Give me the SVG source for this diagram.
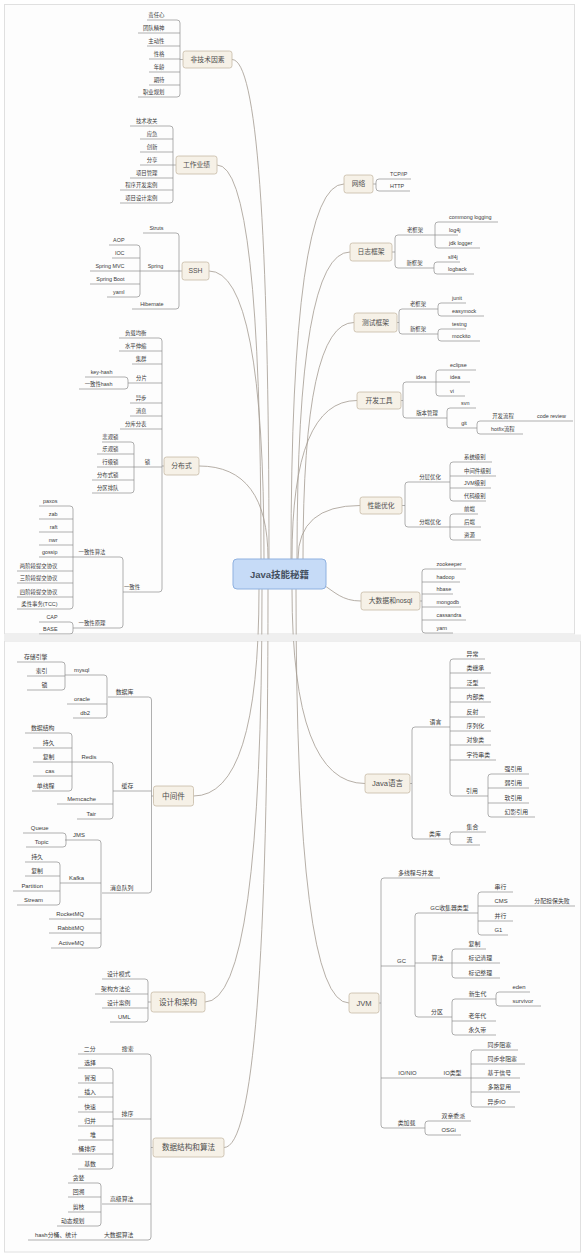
<svg xmlns="http://www.w3.org/2000/svg" width="587" height="1256" viewBox="0 0 587 1256">
<style>
text{font-family:"Liberation Sans","Noto Sans CJK SC",sans-serif;fill:#3a3a3a}
.a{font-size:5.4px}
.b{font-size:5.9px}
.e{text-anchor:end}
.m{text-anchor:middle}
.n{font-size:6.8px;fill:#4e4e4e;text-anchor:middle}
.nb{font-size:7.6px;fill:#4e4e4e;text-anchor:middle}
.bx{fill:#f6f1e7;stroke:#c6baa6;stroke-width:.8}
.ln{fill:none;stroke:#8e8e8e;stroke-width:.7}
.cv{fill:none;stroke:#a39a90;stroke-width:.8}
</style>
<rect x="0" y="0" width="587" height="1256" fill="#ffffff"/>
<rect x="4.5" y="4.5" width="570" height="629.5" fill="#fdfdfd" stroke="#e0e0e0" stroke-width="1"/>
<rect x="4.5" y="641" width="576" height="611" fill="#fdfdfd" stroke="#e0e0e0" stroke-width="1"/>

<g id="connectors">
<!-- main curves -->
<path class="cv" d="M232 59.5 Q269 59.5 269 559 V570"/>
<path class="cv" d="M217 165 Q261 165 261 559 V570"/>
<path class="cv" d="M209 271 Q264 271 264 559 V570"/>
<path class="cv" d="M199 466 Q268 466 268 559 V570"/>
<path class="cv" d="M344 184 Q291 184 291 559 V570"/>
<path class="cv" d="M350 252 Q297 252 297 559 V570"/>
<path class="cv" d="M354 322.5 Q303 322.5 303 559 V570"/>
<path class="cv" d="M357 400.5 Q292 400.5 292 559 V570"/>
<path class="cv" d="M360 505.5 Q298 505.5 298 559 V570"/>
<path class="cv" d="M361 601 C342 601 335 592 322 584"/>
<path class="cv" d="M193.5 796 Q259 796 259 589 V578"/>
<path class="cv" d="M205 1002 Q262 1002 262 589 V578"/>
<path class="cv" d="M224 1147.5 Q268 1147.5 268 589 V578"/>
<path class="cv" d="M365 783.5 Q292 783.5 292 589 V578"/>
<path class="cv" d="M349 1003 Q296 1003 296 589 V578"/>
<!-- parent stubs -->
<path class="ln" d="M183 59.5 H180 M176 165 H173 M182 271 H179 M164 466 H162 M373 184 H376 M392 252 H395 M397 322.5 H399 M401 400.5 H403 M402 505.5 H405 M420 601 H422 M153.5 796 H151.5 M151 1002 H148 M153 1147.5 H151 M410 783.5 H412 M379 1003 H381"/>
<!-- right top -->
<path class="ln" d="M411 179 H379 Q376 179 376 182 V188 Q376 191 379 191 H410"/>
<path class="ln" d="M435 235 H398 Q395 235 395 238 V265 Q395 268 398 268 H434"/>
<path class="ln" d="M498 222 H438 Q435 222 435 225 V245 Q435 248 438 248 H480 M435 235 H458"/>
<path class="ln" d="M460 262 H437 Q434 262 434 265 V271 Q434 274 437 274 H474"/>
<path class="ln" d="M438 309 H402 Q399 309 399 312 V331 Q399 334 402 334 H438"/>
<path class="ln" d="M466 303 H441 Q438 303 438 306 V313 Q438 316 441 316 H484"/>
<path class="ln" d="M466 329 H441 Q438 329 438 332 V338 Q438 341 441 341 H480"/>
<path class="ln" d="M436 382 H406 Q403 382 403 385 V415 Q403 418 406 418 H447"/>
<path class="ln" d="M476 370 H439 Q436 370 436 373 V393 Q436 396 439 396 H465 M436 382 H470"/>
<path class="ln" d="M476 408 H450 Q447 408 447 411 V425 Q447 428 450 428 H477"/>
<path class="ln" d="M573 421 H480 Q477 421 477 424 V431 Q477 434 480 434 H523"/>
<path class="ln" d="M450 482 H408 Q405 482 405 485 V524 Q405 527 408 527 H450"/>
<path class="ln" d="M492 462 H453 Q450 462 450 465 V498 Q450 501 453 501 H486 M450 476 H496 M450 488 H491"/>
<path class="ln" d="M478 514 H453 Q450 514 450 517 V537 Q450 540 453 540 H481 M450 527 H481"/>
<path class="ln" d="M466 569 H425 Q422 569 422 572 V630 Q422 633 425 633 H453 M422 582 H460 M422 594 H453 M422 607 H461 M422 620 H466"/>
<!-- left top -->
<path class="ln" d="M147 20 H177 Q180 20 180 23 V94 Q180 97 177 97 H138 M180 33 H138 M180 46 H147 M180 59 H149 M180 72 H149 M180 85 H149"/>
<path class="ln" d="M130 126 H170 Q173 126 173 129 V200 Q173 203 170 203 H120 M173 139 H140 M173 152 H140 M173 165 H140 M173 178 H130 M173 190 H120"/>
<path class="ln" d="M143 233 H176 Q179 233 179 236 V306 Q179 309 176 309 H132 M179 271 H140"/>
<path class="ln" d="M109 245 H137 Q140 245 140 248 V294 Q140 297 137 297 H107 M140 258 H112 M140 271 H90 M140 284 H90"/>
<path class="ln" d="M119 338 H159 Q162 338 162 341 V589 Q162 592 159 592 H123 M162 351 H119 M162 364 H132 M162 383 H128 M162 403 H130 M162 416 H130 M162 429 H120 M162 467 H134"/>
<path class="ln" d="M85 377 H125 Q128 377 128 380 V386 Q128 389 125 389 H79"/>
<path class="ln" d="M102 442 H131 Q134 442 134 445 V490 Q134 493 131 493 H92 M134 454 H97 M134 467 H97 M134 480 H92"/>
<path class="ln" d="M73 557 H120 Q123 557 123 560 V625 Q123 628 120 628 H73"/>
<path class="ln" d="M39 506 H70 Q73 506 73 509 V606 Q73 609 70 609 H17 M73 519 H39 M73 532 H39 M73 545 H39 M73 557 H39 M73 571 H17 M73 583 H17 M73 597 H17"/>
<path class="ln" d="M39 622 H70 Q73 622 73 625 V631 Q73 634 70 634 H39"/>
<!-- left bottom -->
<path class="ln" d="M108 697 H148.5 Q151.5 697 151.5 700 V890 Q151.5 893 148.5 893 H102 M151.5 791 H113"/>
<path class="ln" d="M65 675 H104 Q107 675 107 678 V715 Q107 718 104 718 H73 M107 704 H67"/>
<path class="ln" d="M17 662 H62 Q65 662 65 665 V687 Q65 690 62 690 H27 M65 676 H27"/>
<path class="ln" d="M72 762 H110 Q113 762 113 765 V816 Q113 819 110 819 H77 M113 804 H57"/>
<path class="ln" d="M25 733 H69 Q72 733 72 736 V788 Q72 791 69 791 H32 M72 748 H33 M72 762 H33 M72 776 H33"/>
<path class="ln" d="M65 840 H98 Q101 840 101 843 V945 Q101 948 98 948 H51 M101 883 H60 M101 919 H49 M101 933 H49"/>
<path class="ln" d="M23 833 H63 Q66 833 66 836 V844 Q66 847 63 847 H26"/>
<path class="ln" d="M25 862 H57 Q60 862 60 865 V902 Q60 905 57 905 H17 M60 876 H25 M60 891 H13"/>
<path class="ln" d="M102 979 H145 Q148 979 148 982 V1019 Q148 1022 145 1022 H110 M148 994 H95 M148 1008 H102"/>
<path class="ln" d="M78 1054 H148 Q151 1054 151 1057 V1237 Q151 1240 148 1240 H28 M151 1119 H113 M151 1204 H102"/>
<path class="ln" d="M78 1068 H110 Q113 1068 113 1071 V1166 Q113 1169 110 1169 H78 M113 1083 H78 M113 1097 H78 M113 1112 H78 M113 1126 H78 M113 1140 H78 M113 1154 H72"/>
<path class="ln" d="M68 1183 H98 Q101 1183 101 1186 V1223 Q101 1226 98 1226 H57 M101 1197 H68 M101 1212 H68"/>
<!-- right bottom -->
<path class="ln" d="M450 727 H415 Q412 727 412 730 V836 Q412 839 415 839 H450"/>
<path class="ln" d="M485 659 H453 Q450 659 450 662 V793 Q450 796 453 796 H488 M450 673 H491 M450 688 H485 M450 702 H491 M450 717 H485 M450 731 H491 M450 745 H491 M450 760 H496"/>
<path class="ln" d="M529 774 H491 Q488 774 488 777 V814 Q488 817 491 817 H535 M488 788 H529 M488 803 H529"/>
<path class="ln" d="M486 832 H453 Q450 832 450 835 V842 Q450 845 453 845 H480"/>
<path class="ln" d="M440 878 H384 Q381 878 381 881 V1125 Q381 1128 384 1128 H425 M381 966 H415 M381 1078 H471"/>
<path class="ln" d="M478 913 H418 Q415 913 415 916 V1014 Q415 1017 418 1017 H452 M415 963 H452"/>
<path class="ln" d="M513 892 H481 Q478 892 478 895 V932 Q478 935 481 935 H508 M478 906 H575 M478 921 H513"/>
<path class="ln" d="M486 949 H455 Q452 949 452 952 V975 Q452 978 455 978 H500 M452 963 H500"/>
<path class="ln" d="M496 999 H455 Q452 999 452 1002 V1032 Q452 1035 455 1035 H496 M452 1021 H496"/>
<path class="ln" d="M530 992 H499 Q496 992 496 995 V1003 Q496 1006 499 1006 H541"/>
<path class="ln" d="M518 1050 H474 Q471 1050 471 1053 V1104 Q471 1107 474 1107 H515 M471 1064 H525 M471 1078 H520 M471 1092 H520"/>
<path class="ln" d="M471 1121 H428 Q425 1121 425 1124 V1132 Q425 1135 428 1135 H461"/>
</g>

<rect x="4" y="634.5" width="577" height="6.5" fill="#efefef"/>

<g id="root">
<rect x="233" y="559" width="93" height="30" rx="4" fill="#c6dbf7" stroke="#8fb1e0" stroke-width="1"/>
<text x="279.5" y="577.5" text-anchor="middle" style="font-size:9.5px;font-weight:bold;fill:#44505e">Java技能秘籍</text>
</g>

<g id="node-feijishu"><rect class="bx" x="183" y="51" width="49" height="17" rx="2.5"/><text class="n" x="207.5" y="61.9">非技术因素</text></g>
<g id="node-gongzuo"><rect class="bx" x="176" y="156" width="41" height="18" rx="2.5"/><text class="n" x="196.5" y="167.4">工作业绩</text></g>
<g id="node-ssh"><rect class="bx" x="182" y="262" width="27" height="18" rx="2.5"/><text class="n" x="195.5" y="273.4">SSH</text></g>
<g id="node-fenbushi"><rect class="bx" x="164" y="457" width="35" height="18" rx="2.5"/><text class="n" x="181.5" y="468.4">分布式</text></g>
<g id="node-wangluo"><rect class="bx" x="344" y="175" width="29" height="18" rx="2.5"/><text class="n" x="358.5" y="186.4">网络</text></g>
<g id="node-rizhi"><rect class="bx" x="350" y="243" width="42" height="18" rx="2.5"/><text class="n" x="371" y="254.4">日志框架</text></g>
<g id="node-ceshi"><rect class="bx" x="354" y="313" width="43" height="19" rx="2.5"/><text class="n" x="375.5" y="324.9">测试框架</text></g>
<g id="node-kaifa"><rect class="bx" x="357" y="392" width="44" height="17" rx="2.5"/><text class="n" x="379" y="402.9">开发工具</text></g>
<g id="node-xingneng"><rect class="bx" x="360" y="497" width="42" height="17" rx="2.5"/><text class="n" x="381" y="507.9">性能优化</text></g>
<g id="node-dashuju"><rect class="bx" x="361" y="592" width="59" height="18" rx="2.5"/><text class="n" x="390.5" y="603.4">大数据和nosql</text></g>
<g id="node-zhongjianjian"><rect class="bx" x="153.5" y="786" width="40" height="20" rx="2.5"/><text class="nb" x="173.5" y="798.7">中间件</text></g>
<g id="node-sheji"><rect class="bx" x="151" y="992" width="54" height="20" rx="2.5"/><text class="nb" x="178" y="1004.7">设计和架构</text></g>
<g id="node-suanfa"><rect class="bx" x="153" y="1138" width="71" height="19" rx="2.5"/><text class="nb" x="188.5" y="1150.2">数据结构和算法</text></g>
<g id="node-java"><rect class="bx" x="365" y="774" width="45" height="19" rx="2.5"/><text class="nb" x="387.5" y="786.2">Java语言</text></g>
<g id="node-jvm"><rect class="bx" x="349" y="993" width="30" height="20" rx="2.5"/><text class="nb" x="364" y="1005.7">JVM</text></g>

<!-- right top leaves -->
<g id="wl-1"><text class="a" x="390" y="175.7">TCP/IP</text></g>
<g id="wl-2"><text class="a" x="390" y="187.7">HTTP</text></g>
<g id="rz-old"><text class="a m" x="415" y="231.7">老框架</text></g>
<g id="rz-new"><text class="a m" x="414.5" y="264.7">新框架</text></g>
<g id="rz-1"><text class="a" x="449" y="218.7">commong logging</text></g>
<g id="rz-2"><text class="a" x="449" y="231.7">log4j</text></g>
<g id="rz-3"><text class="a" x="449" y="244.7">jdk logger</text></g>
<g id="rz-4"><text class="a" x="448" y="258.7">slf4j</text></g>
<g id="rz-5"><text class="a" x="448" y="270.7">logback</text></g>
<g id="cs-old"><text class="a m" x="418" y="305.7">老框架</text></g>
<g id="cs-new"><text class="a m" x="418" y="330.7">新框架</text></g>
<g id="cs-1"><text class="a" x="452" y="299.7">junit</text></g>
<g id="cs-2"><text class="a" x="452" y="312.7">easymock</text></g>
<g id="cs-3"><text class="a" x="452" y="325.7">testng</text></g>
<g id="cs-4"><text class="a" x="452" y="337.7">mockito</text></g>
<g id="kf-idea"><text class="a m" x="421" y="378.7">idea</text></g>
<g id="kf-vc"><text class="a m" x="427" y="414.7">版本管理</text></g>
<g id="kf-1"><text class="a" x="450" y="366.7">eclipse</text></g>
<g id="kf-2"><text class="a" x="450" y="378.7">idea</text></g>
<g id="kf-3"><text class="a" x="450" y="392.7">vi</text></g>
<g id="kf-4"><text class="a" x="461" y="404.7">svn</text></g>
<g id="kf-git"><text class="a m" x="464" y="424.7">git</text></g>
<g id="kf-5"><text class="a m" x="503" y="417.7">开发流程</text></g>
<g id="kf-6"><text class="a m" x="551.5" y="417.7">code review</text></g>
<g id="kf-7"><text class="a" x="491" y="430.7">hotfix流程</text></g>
<g id="xn-a"><text class="a m" x="430" y="478.7">分层优化</text></g>
<g id="xn-b"><text class="a m" x="430" y="523.7">分端优化</text></g>
<g id="xn-1"><text class="a" x="464" y="458.7">系统级别</text></g>
<g id="xn-2"><text class="a" x="464" y="472.7">中间件级别</text></g>
<g id="xn-3"><text class="a" x="464" y="484.7">JVM级别</text></g>
<g id="xn-4"><text class="a" x="464" y="497.7">代码级别</text></g>
<g id="xn-5"><text class="a" x="464" y="510.7">前端</text></g>
<g id="xn-6"><text class="a" x="464" y="523.7">后端</text></g>
<g id="xn-7"><text class="a" x="464" y="536.7">资源</text></g>
<g id="dsj-1"><text class="a" x="436.5" y="565.7">zookeeper</text></g>
<g id="dsj-2"><text class="a" x="436.5" y="578.7">hadoop</text></g>
<g id="dsj-3"><text class="a" x="436.5" y="590.7">hbase</text></g>
<g id="dsj-4"><text class="a" x="436.5" y="603.7">mongodb</text></g>
<g id="dsj-5"><text class="a" x="436.5" y="616.7">cassandra</text></g>
<g id="dsj-6"><text class="a" x="436.5" y="629.7">yarn</text></g>

<!-- left top leaves -->
<g id="fj-1"><text class="a e" x="164.5" y="16.7">责任心</text></g>
<g id="fj-2"><text class="a e" x="164.5" y="29.7">团队精神</text></g>
<g id="fj-3"><text class="a e" x="164.5" y="42.7">主动性</text></g>
<g id="fj-4"><text class="a e" x="164.5" y="55.7">性格</text></g>
<g id="fj-5"><text class="a e" x="164.5" y="68.7">年龄</text></g>
<g id="fj-6"><text class="a e" x="164.5" y="81.7">期待</text></g>
<g id="fj-7"><text class="a e" x="164.5" y="93.7">职业规划</text></g>
<g id="gz-1"><text class="a e" x="157.5" y="122.7">技术攻关</text></g>
<g id="gz-2"><text class="a e" x="157.5" y="135.7">应急</text></g>
<g id="gz-3"><text class="a e" x="157.5" y="148.7">创新</text></g>
<g id="gz-4"><text class="a e" x="157.5" y="161.7">分享</text></g>
<g id="gz-5"><text class="a e" x="157.5" y="174.7">项目管理</text></g>
<g id="gz-6"><text class="a e" x="157.5" y="186.7">程序开发案例</text></g>
<g id="gz-7"><text class="a e" x="157.5" y="199.7">项目设计案例</text></g>
<g id="ssh-1"><text class="a e" x="163.5" y="229.7">Struts</text></g>
<g id="ssh-2"><text class="a m" x="155.5" y="267.7">Spring</text></g>
<g id="ssh-3"><text class="a e" x="163.5" y="305.7">Hibernate</text></g>
<g id="sp-1"><text class="a e" x="124.5" y="241.7">AOP</text></g>
<g id="sp-2"><text class="a e" x="124.5" y="254.7">IOC</text></g>
<g id="sp-3"><text class="a e" x="124.5" y="267.7">Spring MVC</text></g>
<g id="sp-4"><text class="a e" x="124.5" y="280.7">Spring Boot</text></g>
<g id="sp-5"><text class="a e" x="124.5" y="293.7">yaml</text></g>
<g id="fb-1"><text class="a e" x="146.5" y="334.7">负载均衡</text></g>
<g id="fb-2"><text class="a e" x="146.5" y="347.7">水平伸缩</text></g>
<g id="fb-3"><text class="a e" x="146.5" y="360.7">集群</text></g>
<g id="fb-4"><text class="a m" x="141.5" y="379.7">分片</text></g>
<g id="fb-5"><text class="a e" x="146.5" y="399.7">异步</text></g>
<g id="fb-6"><text class="a e" x="146.5" y="412.7">消息</text></g>
<g id="fb-7"><text class="a e" x="146.5" y="425.7">分库分表</text></g>
<g id="fb-8"><text class="a m" x="147.5" y="463.7">锁</text></g>
<g id="fb-9"><text class="a m" x="132" y="588.7">一致性</text></g>
<g id="fp-1"><text class="a e" x="112.5" y="373.7">key-hash</text></g>
<g id="fp-2"><text class="a e" x="112.5" y="385.7">一致性hash</text></g>
<g id="lk-1"><text class="a e" x="118.5" y="438.7">悲观锁</text></g>
<g id="lk-2"><text class="a e" x="118.5" y="450.7">乐观锁</text></g>
<g id="lk-3"><text class="a e" x="118.5" y="463.7">行级锁</text></g>
<g id="lk-4"><text class="a e" x="118.5" y="476.7">分布式锁</text></g>
<g id="lk-5"><text class="a e" x="118.5" y="489.7">分区排队</text></g>
<g id="yz-a"><text class="a m" x="92" y="553.7">一致性算法</text></g>
<g id="yz-b"><text class="a m" x="92" y="624.7">一致性原理</text></g>
<g id="yz-1"><text class="a e" x="57.5" y="502.7">paxos</text></g>
<g id="yz-2"><text class="a e" x="57.5" y="515.7">zab</text></g>
<g id="yz-3"><text class="a e" x="57.5" y="528.7">raft</text></g>
<g id="yz-4"><text class="a e" x="57.5" y="541.7">nwr</text></g>
<g id="yz-5"><text class="a e" x="57.5" y="553.7">gossip</text></g>
<g id="yz-6"><text class="a e" x="57.5" y="567.7">两阶段提交协议</text></g>
<g id="yz-7"><text class="a e" x="57.5" y="579.7">三阶段提交协议</text></g>
<g id="yz-8"><text class="a e" x="57.5" y="593.7">四阶段提交协议</text></g>
<g id="yz-9"><text class="a e" x="57.5" y="605.7">柔性事务(TCC)</text></g>
<g id="yz-10"><text class="a e" x="57.5" y="618.7">CAP</text></g>
<g id="yz-11"><text class="a e" x="57.5" y="630.7">BASE</text></g>

<!-- left bottom leaves -->
<g id="zj-db"><text class="b m" x="124.5" y="693.7">数据库</text></g>
<g id="zj-cache"><text class="b m" x="127.5" y="787.7">缓存</text></g>
<g id="zj-mq"><text class="b m" x="121.7" y="889.7">消息队列</text></g>
<g id="db-mysql"><text class="b m" x="81.7" y="671.7">mysql</text></g>
<g id="db-1"><text class="b e" x="90" y="700.7">oracle</text></g>
<g id="db-2"><text class="b e" x="90" y="714.7">db2</text></g>
<g id="my-1"><text class="b e" x="47.5" y="658.7">存储引擎</text></g>
<g id="my-2"><text class="b e" x="47.5" y="672.7">索引</text></g>
<g id="my-3"><text class="b e" x="47.5" y="686.7">锁</text></g>
<g id="ca-redis"><text class="b m" x="89" y="758.7">Redis</text></g>
<g id="ca-1"><text class="b e" x="96" y="800.7">Memcache</text></g>
<g id="ca-2"><text class="b e" x="96" y="815.7">Tair</text></g>
<g id="rd-1"><text class="b e" x="54.5" y="729.7">数据结构</text></g>
<g id="rd-2"><text class="b e" x="54.5" y="744.7">持久</text></g>
<g id="rd-3"><text class="b e" x="54.5" y="758.7">复制</text></g>
<g id="rd-4"><text class="b e" x="54.5" y="772.7">cas</text></g>
<g id="rd-5"><text class="b e" x="54.5" y="787.7">单线程</text></g>
<g id="mq-jms"><text class="b m" x="79" y="836.7">JMS</text></g>
<g id="mq-kafka"><text class="b m" x="76.5" y="879.7">Kafka</text></g>
<g id="mq-1"><text class="b e" x="84" y="915.7">RocketMQ</text></g>
<g id="mq-2"><text class="b e" x="84" y="929.7">RabbitMQ</text></g>
<g id="mq-3"><text class="b e" x="84" y="944.7">ActiveMQ</text></g>
<g id="jms-1"><text class="b e" x="48.5" y="829.7">Queue</text></g>
<g id="jms-2"><text class="b e" x="48.5" y="843.7">Topic</text></g>
<g id="kf-a"><text class="b e" x="43" y="858.7">持久</text></g>
<g id="kf-b"><text class="b e" x="43" y="872.7">复制</text></g>
<g id="kf-c"><text class="b e" x="43" y="887.7">Partition</text></g>
<g id="kf-d"><text class="b e" x="43" y="901.7">Stream</text></g>
<g id="sj-1"><text class="b e" x="130.5" y="975.7">设计模式</text></g>
<g id="sj-2"><text class="b e" x="130.5" y="990.7">架构方法论</text></g>
<g id="sj-3"><text class="b e" x="130.5" y="1004.7">设计案例</text></g>
<g id="sj-4"><text class="b e" x="130.5" y="1018.7">UML</text></g>
<g id="sf-search"><text class="b m" x="127.7" y="1050.7">搜索</text></g>
<g id="sf-erfen"><text class="b m" x="89.7" y="1050.7">二分</text></g>
<g id="sf-sort"><text class="b m" x="127.5" y="1115.7">排序</text></g>
<g id="sf-adv"><text class="b m" x="121.7" y="1200.7">高级算法</text></g>
<g id="sf-big"><text class="b m" x="118.7" y="1236.7">大数据算法</text></g>
<g id="sf-hash"><text class="b m" x="56" y="1236.7">hash分桶、统计</text></g>
<g id="px-1"><text class="b e" x="96" y="1064.7">选择</text></g>
<g id="px-2"><text class="b e" x="96" y="1079.7">冒泡</text></g>
<g id="px-3"><text class="b e" x="96" y="1093.7">插入</text></g>
<g id="px-4"><text class="b e" x="96" y="1108.7">快速</text></g>
<g id="px-5"><text class="b e" x="96" y="1122.7">归并</text></g>
<g id="px-6"><text class="b e" x="96" y="1136.7">堆</text></g>
<g id="px-7"><text class="b e" x="96" y="1150.7">桶排序</text></g>
<g id="px-8"><text class="b e" x="96" y="1165.7">基数</text></g>
<g id="gj-1"><text class="b e" x="84.5" y="1179.7">贪婪</text></g>
<g id="gj-2"><text class="b e" x="84.5" y="1193.7">回溯</text></g>
<g id="gj-3"><text class="b e" x="84.5" y="1208.7">剪枝</text></g>
<g id="gj-4"><text class="b e" x="84.5" y="1222.7">动态规划</text></g>

<!-- right bottom leaves -->
<g id="jl-lang"><text class="b m" x="435.5" y="723.7">语言</text></g>
<g id="jl-lib"><text class="b m" x="435" y="835.7">类库</text></g>
<g id="yy-1"><text class="b" x="466.5" y="655.7">异常</text></g>
<g id="yy-2"><text class="b" x="466.5" y="669.7">类继承</text></g>
<g id="yy-3"><text class="b" x="466.5" y="684.7">泛型</text></g>
<g id="yy-4"><text class="b" x="466.5" y="698.7">内部类</text></g>
<g id="yy-5"><text class="b" x="466.5" y="713.7">反射</text></g>
<g id="yy-6"><text class="b" x="466.5" y="727.7">序列化</text></g>
<g id="yy-7"><text class="b" x="466.5" y="741.7">对象类</text></g>
<g id="yy-8"><text class="b" x="466.5" y="756.7">字符串类</text></g>
<g id="yy-ref"><text class="b m" x="472" y="792.7">引用</text></g>
<g id="ref-1"><text class="b" x="504.5" y="770.7">强引用</text></g>
<g id="ref-2"><text class="b" x="504.5" y="784.7">弱引用</text></g>
<g id="ref-3"><text class="b" x="504.5" y="799.7">软引用</text></g>
<g id="ref-4"><text class="b" x="504.5" y="813.7">幻影引用</text></g>
<g id="lib-1"><text class="b" x="466.5" y="828.7">集合</text></g>
<g id="lib-2"><text class="b" x="466.5" y="841.7">流</text></g>
<g id="jvm-1"><text class="b" x="398" y="874.7">多线程与并发</text></g>
<g id="jvm-gc"><text class="b m" x="401.5" y="962.7">GC</text></g>
<g id="jvm-io"><text class="b m" x="407.5" y="1074.7">IO/NIO</text></g>
<g id="jvm-iotype"><text class="b m" x="452.5" y="1074.7">IO类型</text></g>
<g id="jvm-cl"><text class="b m" x="406.5" y="1124.7">类加载</text></g>
<g id="gc-type"><text class="b m" x="449.5" y="909.7">GC收集器类型</text></g>
<g id="gc-alg"><text class="b m" x="437.5" y="959.7">算法</text></g>
<g id="gc-area"><text class="b m" x="437" y="1013.7">分区</text></g>
<g id="gct-1"><text class="b" x="494.5" y="888.7">串行</text></g>
<g id="gct-2"><text class="b" x="494.5" y="902.7">CMS</text></g>
<g id="gct-3"><text class="b m" x="552" y="902.7">分配担保失败</text></g>
<g id="gct-4"><text class="b" x="494.5" y="917.7">并行</text></g>
<g id="gct-5"><text class="b" x="494.5" y="931.7">G1</text></g>
<g id="alg-1"><text class="b" x="468.5" y="945.7">复制</text></g>
<g id="alg-2"><text class="b" x="468.5" y="959.7">标记清理</text></g>
<g id="alg-3"><text class="b" x="468.5" y="974.7">标记整理</text></g>
<g id="area-1"><text class="b m" x="477.5" y="995.7">新生代</text></g>
<g id="area-2"><text class="b" x="468.5" y="1017.7">老年代</text></g>
<g id="area-3"><text class="b" x="468.5" y="1031.7">永久带</text></g>
<g id="ng-1"><text class="b" x="512.5" y="988.7">eden</text></g>
<g id="ng-2"><text class="b" x="512.5" y="1002.7">survivor</text></g>
<g id="io-1"><text class="b" x="487.5" y="1046.7">同步阻塞</text></g>
<g id="io-2"><text class="b" x="487.5" y="1060.7">同步非阻塞</text></g>
<g id="io-3"><text class="b" x="487.5" y="1074.7">基于信号</text></g>
<g id="io-4"><text class="b" x="487.5" y="1088.7">多路复用</text></g>
<g id="io-5"><text class="b" x="487.5" y="1103.7">异步IO</text></g>
<g id="cl-1"><text class="b" x="441.5" y="1117.7">双亲委派</text></g>
<g id="cl-2"><text class="b" x="441.5" y="1131.7">OSGi</text></g>
</svg>
